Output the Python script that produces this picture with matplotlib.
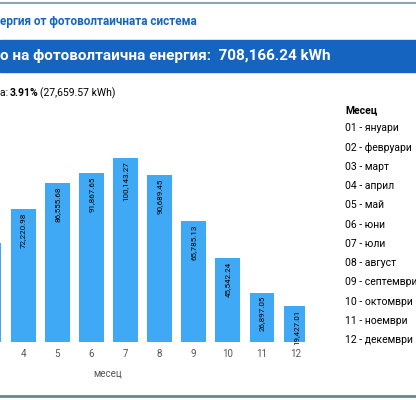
import matplotlib.pyplot as plt

months = [3, 4, 5, 6, 7, 8, 9, 10, 11, 12]
energy = [53900.00, 72220.98, 86555.68, 91867.65, 100143.27, 90689.45,
          65785.13, 45542.24, 26897.05, 19427.01]
legend_items = ["01 - януари", "02 - февруари", "03 - март", "04 - април",
                "05 - май", "06 - юни", "07 - юли", "08 - август",
                "09 - септември", "10 - октомври", "11 - ноември", "12 - декември"]

plt.rcParams['font.family'] = ['Roboto', 'DejaVu Sans']
W, H = 416, 400
fig = plt.figure(figsize=(W / 100, H / 100), dpi=100)

# axes: x 0..305 px, y from 130 (top) to 342 (baseline)
ax = fig.add_axes([0, 58 / H, 305 / W, (342 - 130) / H])
ax.bar(months, energy, width=0.73, color='#3fa9f5')
for m, v in zip(months, energy):
    if m == 3:
        continue
    ax.text(m, v - 1800, f"{v:,.2f}", rotation=90, ha='center', va='top',
            fontsize=5.8, color='black', fontstretch='condensed')
ax.set_xlim(3.325, 12.26)
ax.set_ylim(0, 115400)
ax.set_xticks(months[1:])
ax.tick_params(axis='x', length=0, labelsize=7, colors='#555555', pad=5)
ax.set_yticks([])
for s in ax.spines.values():
    s.set_visible(False)
ax.set_xlabel('месец', fontsize=7, color='#555555', labelpad=3)
ax.xaxis.set_label_coords(108 / 305, -26 / 212)

# header
fig.add_artist(plt.Line2D([0, 1], [1 - 3 / H, 1 - 3 / H], color='#8fa3b8', lw=1.5))
fig.text(0, 1 - 22 / H, 'ергия от фотоволтаичната система', color='#1565c0',
         fontsize=8.5, fontweight='bold', va='center')
fig.add_artist(plt.Rectangle((0, 1 - 72 / H), 1, 32 / H, color='#1565c0',
                             transform=fig.transFigure))
fig.text(0, 1 - 56 / H, 'о на фотоволтаична енергия:  708,166.24 kWh', color='white',
         fontsize=11, fontweight='bold', va='center')
fig.text(0, 1 - 93 / H, 'а: ', fontsize=7.5, va='center')
fig.text(10 / W, 1 - 93 / H, '3.91%', fontsize=7.5, fontweight='bold', va='center')
fig.text(40 / W, 1 - 93 / H, '(27,659.57 kWh)', fontsize=7.5, va='center')

# legend
fig.text(345 / W, 1 - 110 / H, 'Месец', fontsize=7.5, fontweight='bold', va='center')
for i, lab in enumerate(legend_items):
    fig.text(345 / W, 1 - (128 + i * 19.3) / H, lab, fontsize=7.5, va='center')

fig.add_artist(plt.Line2D([0, 1], [4 / H, 4 / H], color='#5f8a9a', lw=2))

fig.savefig('out.png', dpi=100)
